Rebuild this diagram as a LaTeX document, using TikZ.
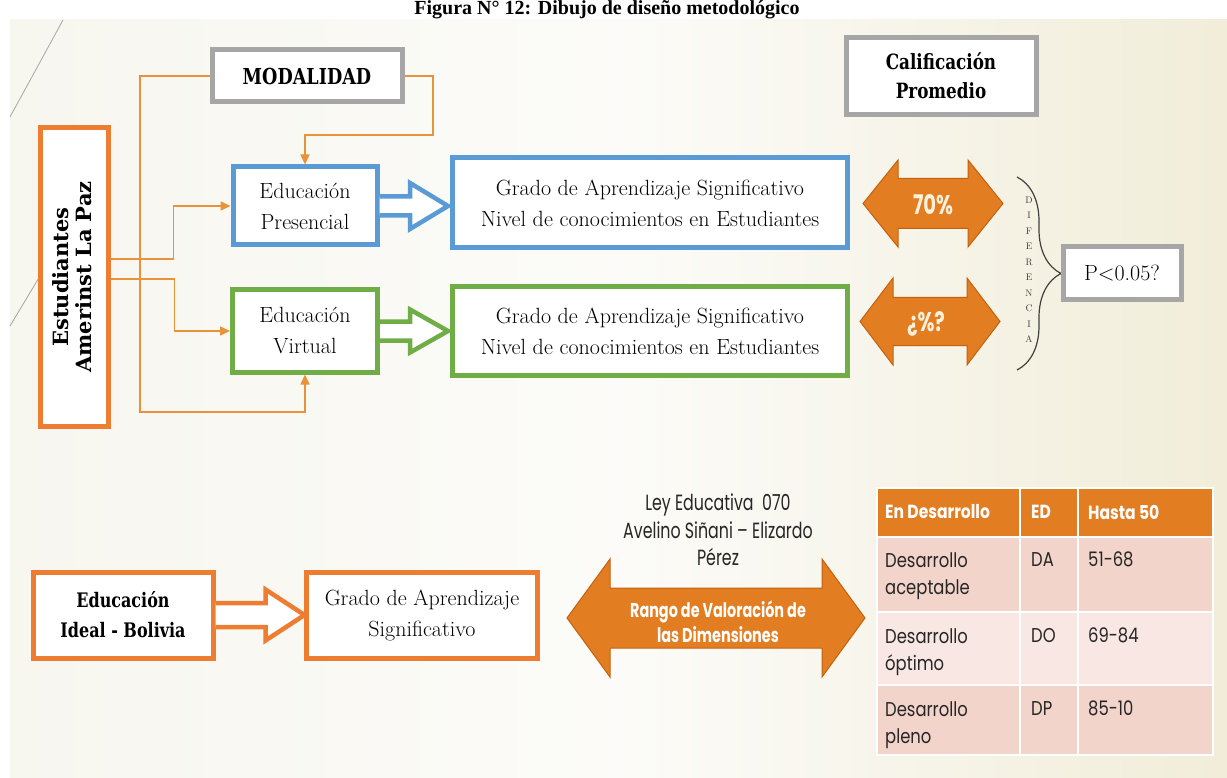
\documentclass[tikz,border=0pt]{standalone}
\usepackage{fontspec}
\newfontfamily\slab{DejaVu Serif}[FakeStretch=0.8]
\newfontfamily\slabr{DejaVu Serif}
\newfontfamily\gothic{Poppins}[FakeStretch=0.72]
\newfontfamily\gothicw{Poppins}[FakeStretch=0.82]
\newfontfamily\titlef{Liberation Serif}
\usetikzlibrary{calc,arrows.meta,decorations.pathreplacing}
\definecolor{orA}{HTML}{ED7D31}
\definecolor{orF}{HTML}{E27D22}
\definecolor{orD}{HTML}{C4610F}
\definecolor{bluB}{HTML}{5B9BD5}
\definecolor{grnB}{HTML}{70AD47}
\definecolor{grayB}{HTML}{A6A6A6}
\definecolor{lineO}{HTML}{E8923A}
\definecolor{bgL}{HTML}{F7F6EF}
\definecolor{bgR}{HTML}{F1EDD9}
\definecolor{rowA}{HTML}{F3D4CB}
\definecolor{rowB}{HTML}{F8E7E2}
\definecolor{arrtext}{HTML}{FDF1DC}
\newcommand\hollowarr[6]{% color, node, shaft half, head base, head half, tip
  \begin{scope}[shift={(#2.east)}]
    \filldraw[fill=white, draw=#1, line width=4.5pt, line join=miter]
      (0,-#3) -- (#4,-#3) -- (#4,-#5) -- (#6,0) -- (#4,#5) -- (#4,#3) -- (0,#3);
  \end{scope}}
\newcommand\dblarr[6]{% cx, cy, half length, head length, head half, shaft half
  \begin{scope}[shift={(#1,#2)}]
    \filldraw[fill=orF, draw=orD, line width=1pt, line join=miter]
      (-#3,0) -- (-#3+#4,-#5) -- (-#3+#4,-#6) -- (#3-#4,-#6) -- (#3-#4,-#5) -- (#3,0)
      -- (#3-#4,#5) -- (#3-#4,#6) -- (-#3+#4,#6) -- (-#3+#4,#5) -- cycle;
  \end{scope}}
\begin{document}
\begin{tikzpicture}[x=1pt,y=-1pt,
  box/.style={draw, fill=white, line width=5pt, align=center, inner sep=0pt},
  conn/.style={draw=lineO, line width=1.5pt, -{Triangle[length=10pt,width=9pt]}},
  reg/.style={font=\fontsize{22}{31}\selectfont},
  bslab/.style={font=\slab\bfseries\fontsize{22}{29}\selectfont},
  cellt/.style={font=\gothicw\fontsize{20}{27}\selectfont, text=black!85, align=left, inner sep=0pt},
  headt/.style={font=\gothicw\bfseries\fontsize{19}{24}\selectfont, text=white, inner sep=0pt}]
\useasboundingbox (0,0) rectangle (1227,778);
\fill[white] (0,0) rectangle (1227,778);
\shade[left color=bgL, right color=bgR, middle color=white!60!bgL] (10,20) rectangle (1227,778);
\node[font=\titlef\bfseries\fontsize{20}{24}\selectfont, anchor=base] (title) at (607,15) {Figura N° 12: Dibujo de diseño metodológico};
\draw[gray!70, line width=0.8pt] (63,20) -- (10,117);
\draw[gray!70, line width=0.8pt] (40,276) -- (10,326);

% top boxes
\node[box, draw=grayB, minimum width=190pt, minimum height=52pt, bslab] (mod) at (307,76) {MODALIDAD};
\node[box, draw=grayB, minimum width=190pt, minimum height=77pt, font=\slab\bfseries\fontsize{21}{29}\selectfont] (calif) at (941,76) {Calificación\\Promedio};
\node[box, draw=orA, minimum width=68pt, minimum height=299pt] (est) at (74,277) {};
\node[rotate=90, align=center, font=\slabr\bfseries\fontsize{21}{23}\selectfont] (estT) at (72,277) {Estudiantes\\Amerinst La Paz};
\node[box, draw=bluB, minimum width=144pt, minimum height=78pt, reg] (pres) at (305,206) {Educación\\Presencial};
\node[box, draw=grnB, minimum width=145pt, minimum height=82pt, reg] (virt) at (305,331) {Educación\\Virtual};
\node[box, draw=bluB, minimum width=395pt, minimum height=90pt, reg] (gradoP) at (650,203) {Grado de Aprendizaje Significativo\\Nivel de conocimientos en Estudiantes};
\node[box, draw=grnB, minimum width=395pt, minimum height=88pt, reg] (gradoV) at (650,331) {Grado de Aprendizaje Significativo\\Nivel de conocimientos en Estudiantes};

% hollow arrows
\hollowarr{bluB}{pres}{9.5}{30.5}{23}{68.5}
\hollowarr{grnB}{virt}{9.5}{30}{21.5}{68}

% connectors
\draw[conn] (mod.west) -| (140,412) -| (virt.south);
\draw[conn] (mod.east) -| (433,135) -| (pres.north);
\draw[conn] ([yshift=18pt]est.east) -- ++(63,0) |- (pres.west);
\draw[conn] ([yshift=-2pt]est.east) -- ++(64,0) |- (virt.west);

% percentage arrows
\dblarr{933}{203.5}{70}{35}{43.5}{25}
\node[font=\gothic\bfseries\fontsize{27}{30}\selectfont, text=arrtext] (p70) at (933,205) {70\%};
\dblarr{930}{321.5}{70}{33}{43.5}{24}
\node[font=\gothic\bfseries\fontsize{27}{30}\selectfont, text=arrtext] (pq) at (926,324) {¿\%?};

% brace
\coordinate (bt) at (1017,177);
\coordinate (bb) at (1017,370);
\draw[black!75, line width=1.2pt, decorate, decoration={brace, amplitude=44pt}] (bt) -- (bb);
\node[align=center, font=\fontsize{9.5}{15.5}\selectfont, text=black!75] (dif) at (1029,270) {D\\I\\F\\E\\R\\E\\N\\C\\I\\A};
\node[box, draw=grayB, minimum width=118pt, minimum height=53pt, reg] (pval) at (1122,273.5) {P<0.05?};

% bottom
\node[box, draw=orA, minimum width=180pt, minimum height=86pt, font=\slab\bfseries\fontsize{20}{30}\selectfont] (ideal) at (123,615) {Educación\\Ideal - Bolivia};
\node[box, draw=orA, minimum width=231pt, minimum height=86pt, reg] (gradoI) at (422,615) {Grado de Aprendizaje\\Significativo};
\hollowarr{orA}{ideal}{12}{50}{25.5}{89}

\dblarr{716}{618}{149}{43}{59}{30}
\node[font=\gothic\fontsize{22}{27.5}\selectfont, align=center, text=black!85] (ley) at (718,530) {Ley Educativa\ \ 070\\Avelino Siñani – Elizardo\\Pérez};
\node[font=\gothic\bfseries\fontsize{20}{25}\selectfont, text=white, align=center] (rango) at (718,622) {Rango de Valoración de\\las Dimensiones};

% table
\fill[orF] (877,488) rectangle (1213,537);
\fill[rowA] (877,537) rectangle (1213,612);
\fill[rowB] (877,612) rectangle (1213,685);
\fill[rowA] (877,685) rectangle (1213,755);
\draw[white, line width=2pt] (1020,488) -- (1020,755) (1078,488) -- (1078,755)
  (877,537) -- (1213,537) (877,612) -- (1213,612) (877,685) -- (1213,685)
  (877,488) rectangle (1213,755);
\node[headt, anchor=west] (h1) at (885,512) {En Desarrollo};
\node[headt, anchor=west] (h2) at (1031,512) {ED};
\node[headt, anchor=west] (h3) at (1088,512) {Hasta 50};
\node[cellt, anchor=north west] (a1) at (885,552) {Desarrollo\\aceptable};
\node[cellt, anchor=north west] (a2) at (1031,552) {DA};
\node[cellt, anchor=north west] (a3) at (1088,552) {51-68};
\node[cellt, anchor=north west] (b1) at (885,628) {Desarrollo\\óptimo};
\node[cellt, anchor=north west] (b2) at (1031,628) {DO};
\node[cellt, anchor=north west] (b3) at (1088,628) {69-84};
\node[cellt, anchor=north west] (c1) at (885,701) {Desarrollo\\pleno};
\node[cellt, anchor=north west] (c2) at (1031,701) {DP};
\node[cellt, anchor=north west] (c3) at (1088,701) {85-10};
\end{tikzpicture}
\end{document}
